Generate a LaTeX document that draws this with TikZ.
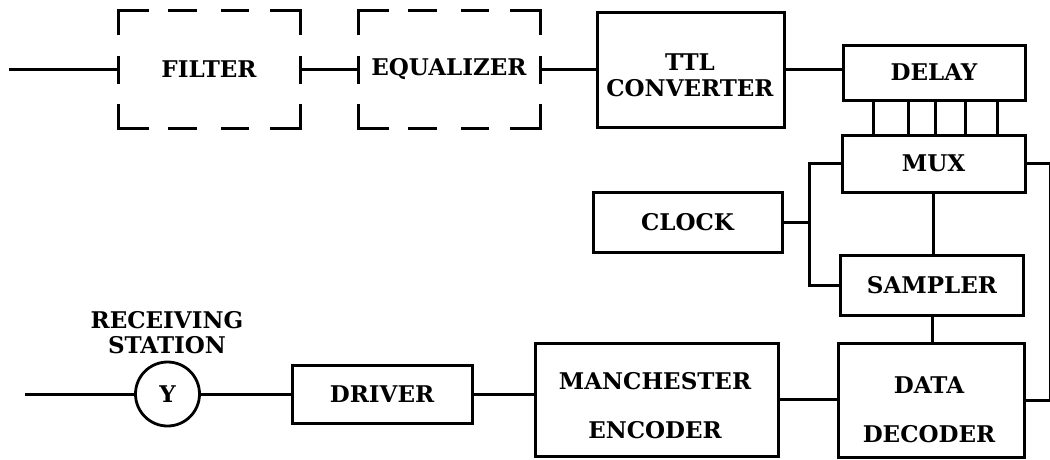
\documentclass[tikz,border=0pt]{standalone}
\usepackage{fontspec}
\setmainfont{DejaVu Serif}
\begin{document}
\begin{tikzpicture}[x=1pt,y=-1pt,
  every node/.style={font=\bfseries\fontsize{23}{26}\selectfont},
  blk/.style={draw, line width=3pt, inner sep=0pt, align=center},
  wire/.style={line width=3pt},
  dbox/.style={inner sep=0pt, outer sep=0pt, minimum width=182pt, minimum height=118pt},
  dline/.style={line width=3pt, line cap=rect, line join=miter,
    dash pattern=on 29pt off 22pt on 26pt off 27pt on 25pt off 24pt on 52pt off 24pt on 25pt off 23pt on 52pt off 24pt on 25pt off 27pt on 26pt off 22pt on 52pt off 23pt on 25pt off 24pt on 23pt}]
\useasboundingbox (0,0) rectangle (1050,459);

% dashed boxes
\node[dbox] (filter) at (209,69) {FILTER};
\node[dbox] (equalizer) at (449,69) {EQUALIZER};
\foreach \n in {filter,equalizer}
  \draw[dline] (\n.north west) -- (\n.north east) -- (\n.south east) -- (\n.south west) -- cycle;

% solid boxes
\node[blk, minimum width=187pt, minimum height=115pt] (ttl) at (690.5,69.5) {};
\node[align=center] (ttltxt) at (690,75) {TTL\\CONVERTER};
\node[blk, minimum width=182pt, minimum height=55pt] (delay) at (934,72.5) {DELAY};
\node[blk, minimum width=183pt, minimum height=57pt] (mux) at (933.5,163.5) {MUX};
\node[blk, minimum width=189pt, minimum height=60pt] (clock) at (687.5,222) {CLOCK};
\node[blk, minimum width=183pt, minimum height=60pt] (sampler) at (932,285) {SAMPLER};
\node[blk, minimum width=186pt, minimum height=114pt] (decoder) at (931,400) {};
\node[align=center, font=\bfseries\fontsize{23}{49}\selectfont] (dectxt) at (929,410) {DATA\\DECODER};
\node[blk, minimum width=243pt, minimum height=113pt] (manch) at (656.5,399.5) {};
\node[align=center, font=\bfseries\fontsize{23}{49}\selectfont] (mantxt) at (655,406) {MANCHESTER\\ENCODER};
\node[blk, minimum width=180pt, minimum height=58pt] (driver) at (382,394) {DRIVER};
\node[draw, circle, line width=2.8pt, minimum size=64pt, inner sep=0pt] (rx) at (167.5,394) {Y};
\node[align=center, font=\bfseries\fontsize{23}{25}\selectfont] (recv) at (167,333) {RECEIVING\\STATION};

% free ends and junctions
\coordinate (in1) at (9,69);
\coordinate (in2) at (25,394);
\coordinate (jt) at (809,163.5);
\coordinate (jb) at (809,285);
\coordinate (rt) at (1050,163.5);
\coordinate (rb) at (1050,400);

% connectors
\draw[wire] (in1) -- (filter.west);
\draw[wire] (filter.east) -- (equalizer.west);
\draw[wire] (equalizer.east) -- (equalizer.east -| ttl.west);
\draw[wire] (ttl.east) -- (ttl.east -| delay.west);
\foreach \x in {873,908,935,965,997}
  \draw[wire] (delay.south -| \x,0) -- (mux.north -| \x,0);
\draw[wire] (mux.west) -- (jt) -- (jb) -- (sampler.west);
\draw[wire] (clock.east) -- (clock.east -| jt);
\draw[wire] (mux.south) -- (mux.south |- sampler.north);
\draw[wire] (sampler.south) -- (sampler.south |- decoder.north);
\draw[wire] (mux.east) -- (rt) -- (rb) -- (decoder.east);
\draw[wire] (manch.east) -- (manch.east -| decoder.west);
\draw[wire] (driver.east) -- (driver.east -| manch.west);
\draw[wire] (rx.east) -- (driver.west);
\draw[wire] (in2) -- (rx.west);
\end{tikzpicture}
\end{document}
